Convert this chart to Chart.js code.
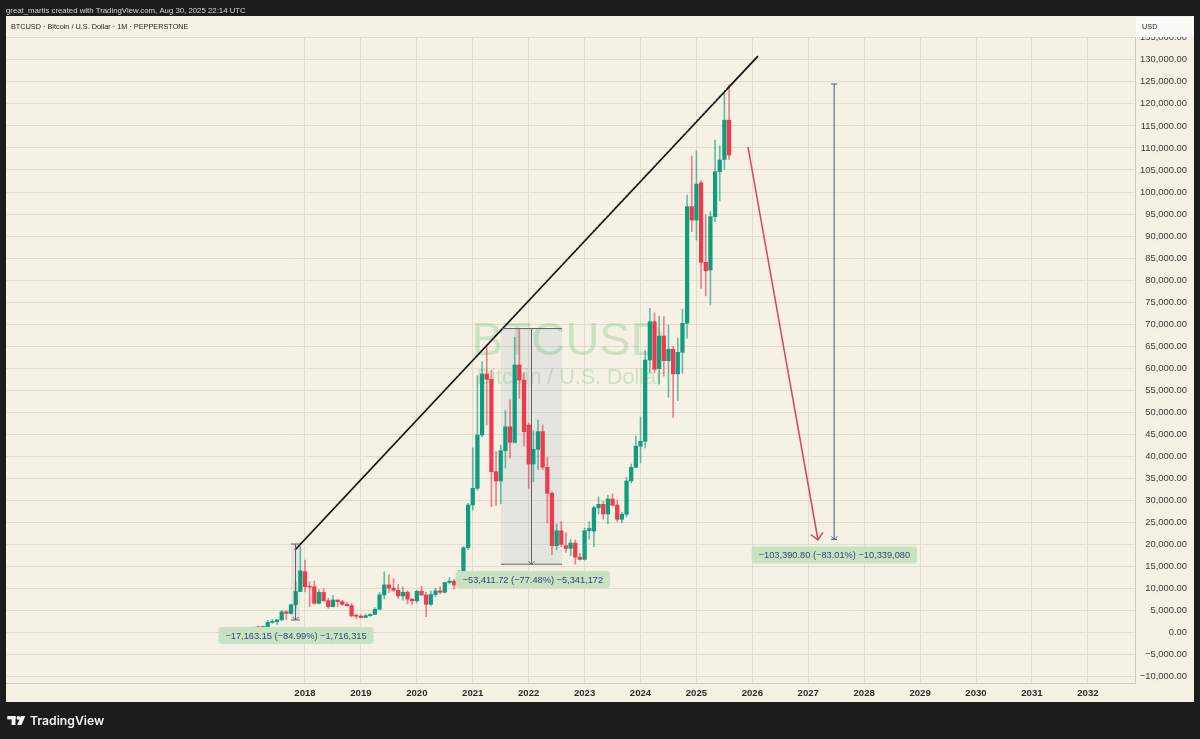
<!DOCTYPE html>
<html>
<head>
<meta charset="utf-8">
<title>BTCUSD</title>
<script src="https://cdn.jsdelivr.net/npm/chart.js@4"></script>
<style>html,body{margin:0;padding:0;background:#1c1c1c}canvas{display:block}</style>
</head>
<body>
<canvas id="c" width="1200" height="739"></canvas>
<script>
// ---- monthly candles (Jan 2017 .. Aug 2025) ----
const startYear = 2017;
const opens  = [960,970,1190,1080,1350,2300,2480,2870,4700,4340,6300,9300,
  13800,10400,10400,6630,9100,7220,5880,7380,7000,6400,6100,3760,
  3700,3400,3820,4100,5270,8550,10800,10080,9600,8300,9150,7560,
  7190,9350,8520,6400,8620,9450,9130,11350,11650,10780,13580,19250,
  28950,32730,44830,58700,57480,36500,34400,41270,46700,43170,60730,57300,
  47100,38250,41600,45600,37500,31600,19700,23100,19700,19100,20300,17100,
  16600,23100,23040,28300,29100,26900,30300,28950,25700,26850,34400,37500,
  42300,43400,61850,70560,59900,67300,61700,64300,58700,63600,70200,96670,
  93630,102100,84040,82300,94400,104600,107400,116300];
const highs  = [1150,1210,1350,1350,2760,2980,2920,4980,4980,6470,11500,19500,
  16450,11530,11700,9750,9950,7760,8450,7400,7300,6800,6600,4200,
  4050,4200,4250,5640,9080,13750,13100,12300,10900,10350,9500,7750,
  9550,10500,9180,9450,10050,10400,11400,12480,12060,14100,19500,29300,
  41900,58300,61500,64800,59600,41050,42500,50350,52800,67000,68800,59000,
  47600,45800,48250,47100,39800,32000,24600,25200,22700,21100,21000,18000,
  23700,25150,28700,30800,29800,31200,31450,30100,27300,35250,38250,44600,
  48900,64000,73600,72600,71850,71700,69800,65000,66800,73370,99300,108150,
  109370,102570,94800,95530,111800,110500,122400,124300];
const lows   = [750,920,890,1060,1350,2100,1840,2700,2980,4110,5500,9500,
  9200,5880,6400,6500,7000,5500,5800,5900,6100,6000,3500,3100,
  3300,3370,3700,4050,5200,7600,9100,9300,7700,7300,6500,6400,
  6850,8400,3600,6150,8100,8800,8970,11000,9900,10400,13200,18800,
  27800,32300,44400,47100,28560,28800,29200,37350,39600,43000,53170,42300,
  32700,34200,37000,37000,24850,17600,18800,19500,18200,17400,15500,16400,
  16400,21150,19500,26900,25700,24650,28700,25150,24900,26300,34000,37500,
  38500,41900,59000,59000,56400,58200,53400,48850,52650,58850,66800,91000,
  89100,78130,76400,74350,93250,98000,105150,107400];
const closes = [970,1190,1080,1350,2300,2480,2870,4700,4340,6300,9300,14000,
  10400,10300,6630,9100,7220,5880,7380,7000,6400,6100,3760,3700,
  3400,3820,4100,5270,8550,10800,10080,9600,8300,9150,7560,7190,
  9350,8520,6400,8620,9450,9130,11350,11650,10780,13580,19250,28950,
  32730,44830,58700,57480,36500,34400,41270,46700,43170,60730,57300,45600,
  38250,41600,45600,37500,31600,19700,23100,20000,19100,20300,17100,16600,
  23100,23600,28330,29100,26900,30300,28900,25700,26850,34400,37500,42300,
  43400,61850,70560,59750,67300,61700,64300,58700,63600,70200,96670,93630,
  101800,84040,82130,94400,104600,107270,116300,108400];

// ---- drawings (x in months from Jan 2018, y in USD) ----
const trendX = [-2.15, 97.2];
const trendY = [18730, 130870];
const guideX = [-1.5, 90.34];
const guideY = [19864, 123380];
const bearX  = [95.06, 110.09];
const bearY  = [110220, 21000];

const rangeLeft   = [-3.0, 42.06, 112.9];
const rangeRight  = [-1.07, 55.15, 114.2];
const rangeTop    = [20090, 69000, 124520];
const rangeBottom = [2838, 15500, 21130];
const rangeShaded = [true, true, false];
const rangeLineColors = ['#5f6368', '#5f6368', '#4c5a80'];

const noteTexts = ['\u221217,163.15 (\u221284.99%) \u22121,716,315',
                   '\u221253,411.72 (\u221277.48%) \u22125,341,172',
                   '\u2212103,390.80 (\u221283.01%) \u221210,339,080'];
const noteX = [-1.93, 48.9, 113.6];
const noteY = [-680, 12030, 17590];

const yearLabels = ['2018','2019','2020','2021','2022','2023','2024','2025','2026','2027','2028','2029','2030','2031','2032'];
const yearTicks = [0,12,24,36,48,60,72,84,96,108,120,132,144,156,168];
const priceTicks = [135000,130000,125000,120000,115000,110000,105000,100000,95000,90000,85000,80000,75000,70000,65000,60000,55000,50000,45000,40000,35000,30000,25000,20000,15000,10000,5000,0,-5000,-10000];

const UP = '#0f9d7e', DOWN = '#ee3a4e';
const UPW = 'rgba(15,157,126,.62)', DOWNW = 'rgba(238,58,78,.62)';
const monthX = opens.map((_, i) => i - 12 + (startYear - 2017) * 12);

const rangeCenter = i => (rangeLeft[i] + rangeRight[i]) / 2;

const sceneBack = {
  id: 'sceneBack',
  beforeDraw(ch) {
    const c = ch.ctx;
    c.save();
    c.fillStyle = '#1c1c1c'; c.fillRect(0, 0, 1200, 739);
    c.fillStyle = '#f5f2e5'; c.fillRect(6, 16, 1188, 686);
    c.fillStyle = '#e4e1d2'; c.fillRect(6, 37, 1129, 1);
    c.restore();
  },
  beforeDatasetsDraw(ch) {
    const c = ch.ctx, xs = ch.scales.x, ys = ch.scales.y, a = ch.chartArea;
    c.save();
    c.beginPath(); c.rect(a.left, a.top, a.width, a.height); c.clip();
    // watermark
    c.fillStyle = 'rgba(76,175,80,.24)';
    c.textAlign = 'center'; c.textBaseline = 'middle';
    c.font = '47px "Liberation Sans"';
    c.fillText('BTCUSD', 568, 342);
    c.font = '21.5px "Liberation Sans"';
    c.fillText('Bitcoin / U.S. Dollar', 570, 378);
    // shaded ranges
    rangeLeft.forEach((l, i) => {
      if (!rangeShaded[i]) return;
      const x0 = xs.getPixelForValue(l), x1 = xs.getPixelForValue(rangeRight[i]);
      const y0 = ys.getPixelForValue(rangeTop[i]), y1 = ys.getPixelForValue(rangeBottom[i]);
      c.fillStyle = 'rgba(120,150,190,.13)';
      c.fillRect(x0, y0, x1 - x0, y1 - y0);
    });
    c.restore();
  },
  afterDatasetsDraw(ch) {
    const c = ch.ctx, xs = ch.scales.x, ys = ch.scales.y;
    c.save();
    // measure ranges: caps, shaft, arrowhead
    rangeLeft.forEach((l, i) => {
      const x0 = xs.getPixelForValue(l), x1 = xs.getPixelForValue(rangeRight[i]);
      const xm = xs.getPixelForValue(rangeCenter(i));
      const y0 = ys.getPixelForValue(rangeTop[i]), y1 = ys.getPixelForValue(rangeBottom[i]);
      c.strokeStyle = rangeLineColors[i]; c.lineWidth = 1;
      c.beginPath();
      c.moveTo(x0, y0); c.lineTo(x1, y0);
      c.moveTo(xm, y0); c.lineTo(xm, y1);
      c.moveTo(x0, y1); c.lineTo(x1, y1);
      c.moveTo(xm - 3, y1 - 3); c.lineTo(xm, y1); c.lineTo(xm + 3, y1 - 3);
      c.stroke();
    });
    // bear arrowhead
    const tx = xs.getPixelForValue(bearX[1]), ty = ys.getPixelForValue(bearY[1]);
    const sx = xs.getPixelForValue(bearX[0]), sy = ys.getPixelForValue(bearY[0]);
    const ang = Math.atan2(ty - sy, tx - sx);
    c.strokeStyle = '#d9455f'; c.lineWidth = 1.5;
    c.beginPath();
    c.moveTo(tx + 9 * Math.cos(ang + 2.4), ty + 9 * Math.sin(ang + 2.4));
    c.lineTo(tx, ty);
    c.lineTo(tx + 9 * Math.cos(ang - 2.4), ty + 9 * Math.sin(ang - 2.4));
    c.stroke();
    // measurement notes
    c.font = '9.25px "Liberation Sans"';
    c.textAlign = 'center'; c.textBaseline = 'middle';
    noteTexts.forEach((t, i) => {
      const x = xs.getPixelForValue(noteX[i]), y = ys.getPixelForValue(noteY[i]);
      const w = c.measureText(t).width + 14, h = 17;
      c.fillStyle = '#c9e2c4';
      c.beginPath(); c.roundRect(x - w / 2, y - h / 2, w, h, 3); c.fill();
      c.fillStyle = '#2c4a7c';
      c.fillText(t, x, y + .5);
    });
    c.restore();
  },
  afterDraw(ch) {
    const c = ch.ctx;
    c.save();
    c.textBaseline = 'middle'; c.textAlign = 'left';
    c.fillStyle = '#d6d6d6';
    c.font = '7.8px "Liberation Sans"';
    c.fillText('great_martis created with TradingView.com, Aug 30, 2025 22:14 UTC', 6, 10.5);
    c.fillStyle = '#1f1f1f';
    c.font = '7.3px "Liberation Sans"';
    c.fillText('BTCUSD \u00b7 Bitcoin / U.S. Dollar \u00b7 1M \u00b7 PEPPERSTONE', 11, 27);
    // unit box
    c.fillStyle = '#fbfbf8'; c.fillRect(1136, 17, 57, 20);
    c.fillStyle = '#1f1f1f';
    c.font = '7.3px "Liberation Sans"';
    c.fillText('USD', 1142, 27);
    // logo
    c.fillStyle = '#f2f2f2';
    c.fillRect(7.3, 716, 8.2, 3.4);
    c.fillRect(11.6, 716, 3.9, 9);
    c.beginPath(); c.arc(18.4, 717.9, 1.9, 0, Math.PI * 2); c.fill();
    c.beginPath(); c.moveTo(20.8, 716); c.lineTo(25.2, 716); c.lineTo(21.6, 725); c.lineTo(17.2, 725); c.closePath(); c.fill();
    c.font = '600 12.2px Inter';
    c.fillText('TradingView', 30, 721);
    c.restore();
  }
};

new Chart(document.getElementById('c'), {
  type: 'bar',
  data: {
    datasets: [
      { type: 'line', label: 'Guide', data: guideX.map((x, i) => ({x, y: guideY[i]})),
        borderColor: 'rgba(195,200,220,.9)', borderWidth: 1, borderDash: [2, 2], pointRadius: 0, order: 0 },
      { type: 'line', label: 'Trend', data: trendX.map((x, i) => ({x, y: trendY[i]})),
        borderColor: '#141414', borderWidth: 1.8, pointRadius: 0, order: 1 },
      { type: 'line', label: 'Projection', data: bearX.map((x, i) => ({x, y: bearY[i]})),
        borderColor: '#d9455f', borderWidth: 1.5, pointRadius: 0, order: 1 },
      { label: 'Bodies', data: monthX.map((x, i) => ({x, y: [opens[i], closes[i]]})),
        backgroundColor: closes.map((v, i) => v >= opens[i] ? UP : DOWN),
        barThickness: 3.6, grouped: false, minBarLength: 1, order: 3 },
      { label: 'Wicks', data: monthX.map((x, i) => ({x, y: [lows[i], highs[i]]})),
        backgroundColor: closes.map((v, i) => v >= opens[i] ? UPW : DOWNW),
        barThickness: 1, grouped: false, order: 4 }
    ]
  },
  options: {
    responsive: false, animation: false, devicePixelRatio: 1,
    layout: { padding: { left: 6, top: 37, right: 13, bottom: 37 } },
    plugins: { legend: { display: false }, tooltip: { enabled: false } },
    scales: {
      x: {
        type: 'linear', offset: false, min: -64.163, max: 178.112,
        grid: { offset: false, color: '#e0ddce', drawTicks: false, lineWidth: 1 },
        border: { color: '#cfccbb', display: true },
        afterFit(s) { s.height = 19; },
        afterBuildTicks(s) { s.ticks = yearTicks.map(value => ({value})); },
        ticks: {
          autoSkip: false, maxRotation: 0, padding: 5,
          color: '#2a2a2a', font: { family: '"Liberation Sans"', size: 9.6, weight: 'bold' },
          callback: v => yearLabels[yearTicks.indexOf(v)]
        }
      },
      y: {
        type: 'linear', position: 'right', min: -11464, max: 135190,
        grid: { color: '#e0ddce', drawTicks: false, lineWidth: 1 },
        border: { color: '#cfccbb', display: true },
        afterFit(s) { s.width = 52; },
        afterBuildTicks(s) { s.ticks = priceTicks.map(value => ({value})); },
        ticks: {
          autoSkip: false, padding: 0, crossAlign: 'far',
          color: '#3a3a3a', font: { family: '"Liberation Sans"', size: 9.4 },
          callback: v => (v < 0 ? '\u2212' : '') + Math.abs(v).toLocaleString('en-US', {minimumFractionDigits: 2, maximumFractionDigits: 2})
        }
      }
    }
  },
  plugins: [sceneBack]
});
</script>
</body>
</html>
